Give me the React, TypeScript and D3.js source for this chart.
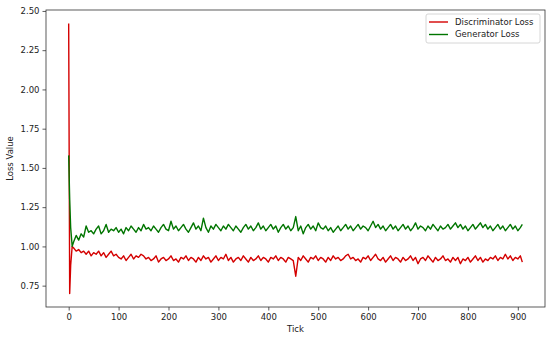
import React, { useEffect, useRef } from 'react';
import * as d3 from 'd3';

// tick positions of the sampled points (dense at the very start where the spike is)
const ticks: number[] = [0, 2, 4, 7, ...d3.range(10, 910, 5), 909];

const discLoss: number[] = [
  2.42, 0.70, 0.88, 1.00,
  0.99, 0.97, 0.98, 0.96, 0.97, 0.95, 0.97, 0.94, 0.96, 0.95,
  0.97, 0.94, 0.96, 0.93, 0.95, 0.97, 0.94, 0.95, 0.93, 0.92,
  0.94, 0.91, 0.93, 0.95, 0.92, 0.94, 0.93, 0.95, 0.94, 0.92,
  0.93, 0.91, 0.92, 0.94, 0.90, 0.92, 0.93, 0.91, 0.92, 0.94,
  0.91, 0.92, 0.90, 0.93, 0.92, 0.94, 0.91, 0.93, 0.92, 0.90,
  0.93, 0.91, 0.94, 0.92, 0.93, 0.90, 0.92, 0.94, 0.91, 0.93,
  0.92, 0.95, 0.91, 0.93, 0.90, 0.92, 0.93, 0.91, 0.94, 0.92,
  0.90, 0.93, 0.91, 0.92, 0.94, 0.91, 0.93, 0.92, 0.90, 0.93,
  0.92, 0.94, 0.91, 0.93, 0.92, 0.90, 0.93, 0.92, 0.91, 0.81,
  0.93, 0.91, 0.94, 0.92, 0.90, 0.93, 0.92, 0.94, 0.91, 0.93,
  0.92, 0.90, 0.93, 0.91, 0.94, 0.92, 0.93, 0.91, 0.92, 0.94,
  0.95, 0.92, 0.93, 0.91, 0.92, 0.90, 0.93, 0.92, 0.94, 0.91,
  0.93, 0.95, 0.92, 0.91, 0.93, 0.90, 0.92, 0.94, 0.91, 0.93,
  0.92, 0.90, 0.93, 0.91, 0.92, 0.94, 0.91, 0.93, 0.89, 0.92,
  0.93, 0.91, 0.94, 0.92, 0.90, 0.93, 0.91, 0.92, 0.94, 0.91,
  0.92, 0.90, 0.93, 0.91, 0.93, 0.89, 0.92, 0.91, 0.93, 0.90,
  0.92, 0.94, 0.91, 0.93, 0.90, 0.92, 0.91, 0.93, 0.92, 0.94,
  0.91, 0.93, 0.92, 0.95, 0.92, 0.94, 0.91, 0.93, 0.92, 0.94,
  0.90,
];

const genLoss: number[] = [
  1.58, 1.30, 1.12, 1.00,
  1.03, 1.07, 1.04, 1.08, 1.06, 1.13, 1.09, 1.10, 1.08, 1.11,
  1.13, 1.08, 1.10, 1.14, 1.09, 1.11, 1.10, 1.12, 1.09, 1.11,
  1.08, 1.12, 1.10, 1.13, 1.11, 1.09, 1.12, 1.10, 1.14, 1.11,
  1.12, 1.10, 1.13, 1.11, 1.09, 1.12, 1.14, 1.11, 1.10, 1.16,
  1.11, 1.13, 1.10, 1.12, 1.14, 1.11, 1.09, 1.12, 1.15, 1.11,
  1.13, 1.10, 1.18, 1.12, 1.09, 1.13, 1.11, 1.14, 1.12, 1.10,
  1.13, 1.11, 1.14, 1.12, 1.10, 1.13, 1.11, 1.09, 1.12, 1.14,
  1.11, 1.13, 1.10, 1.12, 1.15, 1.11, 1.13, 1.10, 1.12, 1.14,
  1.11, 1.13, 1.09, 1.12, 1.14, 1.11, 1.13, 1.10, 1.12, 1.19,
  1.10, 1.13, 1.08, 1.12, 1.14, 1.11, 1.13, 1.10, 1.15, 1.12,
  1.11, 1.13, 1.10, 1.12, 1.09, 1.11, 1.13, 1.10, 1.12, 1.14,
  1.11, 1.13, 1.10, 1.12, 1.14, 1.11, 1.13, 1.12, 1.10, 1.13,
  1.16, 1.12, 1.14, 1.11, 1.13, 1.10, 1.12, 1.14, 1.11, 1.13,
  1.10, 1.12, 1.14, 1.11, 1.13, 1.10, 1.12, 1.15, 1.11, 1.13,
  1.12, 1.10, 1.13, 1.11, 1.14, 1.12, 1.10, 1.13, 1.11, 1.12,
  1.14, 1.11, 1.13, 1.15, 1.12, 1.14, 1.11, 1.13, 1.10, 1.12,
  1.14, 1.11, 1.13, 1.15, 1.12, 1.14, 1.11, 1.13, 1.10, 1.12,
  1.14, 1.11, 1.13, 1.10, 1.12, 1.14, 1.11, 1.13, 1.10, 1.12,
  1.14,
];

const xTicks = [0, 100, 200, 300, 400, 500, 600, 700, 800, 900];
const yTicks = [0.75, 1.0, 1.25, 1.5, 1.75, 2.0, 2.25, 2.5];

const series = [
  { name: 'Discriminator Loss', values: discLoss, color: '#d40000' },
  { name: 'Generator Loss', values: genLoss, color: '#007500' },
];

const App: React.FC = () => {
  const svgRef = useRef<SVGSVGElement>(null);

  useEffect(() => {
    if (!svgRef.current) return;
    const width = 550;
    const height = 337;
    const left = 46, right = 545, top = 10, bottom = 307;

    const svg = d3.select(svgRef.current);
    svg.selectAll('*').remove();

    const x = d3.scaleLinear().domain([-45.45, 954.45]).range([left, right]);
    const y = d3.scaleLinear().domain([0.614, 2.506]).range([bottom, top]);

    const font = 'DejaVu Sans, sans-serif';

    // lines
    const line = d3.line<number>()
      .x((_, i) => x(ticks[i]))
      .y(d => y(d));

    series.forEach(s => {
      svg.append('path')
        .datum(s.values)
        .attr('d', line)
        .attr('fill', 'none')
        .attr('stroke', s.color)
        .attr('stroke-width', 1.4)
        .attr('stroke-linejoin', 'round');
    });

    // axes
    const xAxis = d3.axisBottom(x).tickValues(xTicks).tickSize(3.5).tickPadding(3).tickFormat(d3.format('d'));
    const yAxis = d3.axisLeft(y).tickValues(yTicks).tickSize(3.5).tickPadding(3).tickFormat(d3.format('.2f'));

    const gx = svg.append('g').attr('transform', `translate(0,${bottom})`).call(xAxis);
    const gy = svg.append('g').attr('transform', `translate(${left},0)`).call(yAxis);
    [gx, gy].forEach(g => {
      g.select('.domain').remove();
      g.selectAll('line').attr('stroke', '#333').attr('stroke-width', 0.8);
      g.selectAll('text').attr('fill', '#222').style('font-family', font).style('font-size', '8.5px');
    });

    // frame
    svg.append('rect')
      .attr('x', left).attr('y', top)
      .attr('width', right - left).attr('height', bottom - top)
      .attr('fill', 'none').attr('stroke', '#333').attr('stroke-width', 0.8);

    svg.append('text')
      .attr('x', (left + right) / 2).attr('y', 332)
      .attr('text-anchor', 'middle')
      .style('font-family', font).style('font-size', '8.5px').attr('fill', '#222')
      .text('Tick');

    svg.append('text')
      .attr('transform', `translate(13,${(top + bottom) / 2}) rotate(-90)`)
      .attr('text-anchor', 'middle')
      .style('font-family', font).style('font-size', '8.5px').attr('fill', '#222')
      .text('Loss Value');

    // legend
    const lg = svg.append('g').attr('transform', 'translate(426,14)');
    lg.append('rect')
      .attr('width', 114).attr('height', 29).attr('rx', 2)
      .attr('fill', 'white').attr('fill-opacity', 0.8)
      .attr('stroke', '#ccc').attr('stroke-width', 0.8);
    series.forEach((s, i) => {
      const ly = 8 + i * 12.5;
      lg.append('line')
        .attr('x1', 3).attr('x2', 22).attr('y1', ly).attr('y2', ly)
        .attr('stroke', s.color).attr('stroke-width', 1.4);
      lg.append('text')
        .attr('x', 29).attr('y', ly).attr('dy', '0.35em')
        .style('font-family', font).style('font-size', '8.5px').attr('fill', '#222')
        .text(s.name);
    });

    svg.attr('width', width).attr('height', height);
  }, []);

  return (
    <svg ref={svgRef} width={550} height={337}
      style={{ position: 'absolute', left: 0, top: 0, background: 'white' }} />
  );
};

export default App;
